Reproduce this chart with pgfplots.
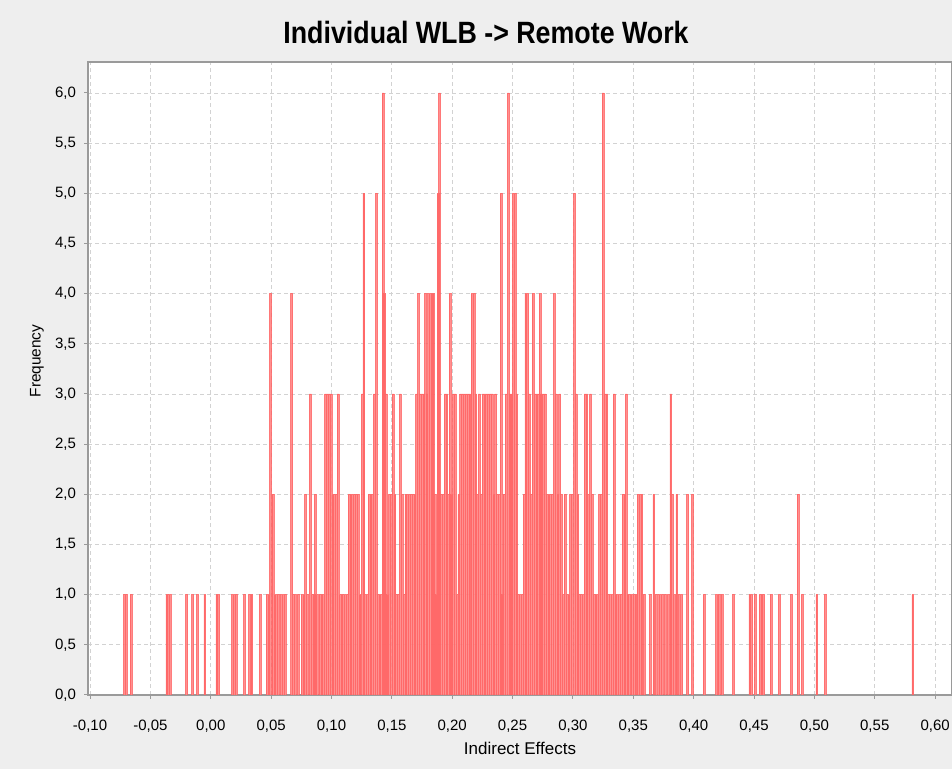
\documentclass[border=0pt]{standalone}
\usepackage{fontspec}
\setmainfont{Liberation Sans}
\usepackage{graphicx}
\usepackage{pgfplots}
\usepackage{pgfplotstable}
\pgfplotsset{compat=1.18}

\definecolor{panelbg}{HTML}{EEEEEE}
\definecolor{gridgray}{HTML}{D2D2D2}
\definecolor{axisgray}{HTML}{9A9A9A}
\definecolor{barfill}{HTML}{FF8585}
\definecolor{barline}{HTML}{FF6060}

% bootstrap histogram: bin centre, frequency
\pgfplotstableread{
x y
-0.0715 1
-0.0700 1
-0.0660 1
-0.0365 1
-0.0350 1
-0.0335 1
-0.0200 1
-0.0150 1
-0.0110 1
-0.0050 1
0.0050 1
0.0065 1
0.0180 1
0.0195 1
0.0210 1
0.0280 1
0.0320 1
0.0340 1
0.0410 1
0.0465 1
0.0480 1
0.0495 4
0.0515 2
0.0530 1
0.0545 1
0.0560 1
0.0585 1
0.0600 1
0.0615 1
0.0670 4
0.0685 1
0.0700 1
0.0725 1
0.0755 1
0.0770 1
0.0785 2
0.0800 1
0.0825 3
0.0840 1
0.0855 1
0.0865 2
0.0880 1
0.0905 1
0.0920 1
0.0935 1
0.0950 3
0.0965 3
0.0980 3
0.0995 3
0.1010 2
0.1025 2
0.1040 2
0.1055 3
0.1070 1
0.1085 1
0.1100 1
0.1115 1
0.1130 1
0.1145 2
0.1160 2
0.1175 2
0.1190 2
0.1205 2
0.1220 2
0.1235 1
0.1255 3
0.1268 5
0.1280 1
0.1295 1
0.1310 2
0.1325 2
0.1340 2
0.1355 3
0.1372 5
0.1385 1
0.1400 1
0.1415 1
0.1427 6
0.1440 4
0.1452 3
0.1465 1
0.1480 2
0.1495 2
0.1510 3
0.1525 2
0.1540 1
0.1555 1
0.1570 3
0.1585 2
0.1600 1
0.1615 2
0.1630 2
0.1645 2
0.1660 2
0.1675 2
0.1690 2
0.1705 3
0.1720 4
0.1735 3
0.1750 3
0.1765 3
0.1778 4
0.1790 3
0.1805 4
0.1820 4
0.1835 4
0.1845 4
0.1860 2
0.1870 1
0.1882 5
0.1895 6
0.1910 2
0.1925 2
0.1940 3
0.1955 3
0.1970 2
0.1982 4
0.1995 2
0.2010 3
0.2025 3
0.2040 1
0.2055 2
0.2070 3
0.2085 3
0.2100 3
0.2115 3
0.2130 3
0.2145 3
0.2165 4
0.2180 4
0.2195 3
0.2210 2
0.2225 3
0.2240 2
0.2255 3
0.2270 3
0.2285 3
0.2300 3
0.2315 3
0.2330 3
0.2345 2
0.2360 3
0.2375 2
0.2390 2
0.2405 5
0.2418 1
0.2430 2
0.2445 3
0.2465 6
0.2478 3
0.2490 3
0.2505 5
0.2520 5
0.2535 3
0.2550 1
0.2565 1
0.2580 1
0.2595 2
0.2610 4
0.2625 4
0.2640 3
0.2655 2
0.2670 4
0.2685 3
0.2700 3
0.2715 3
0.2728 4
0.2740 3
0.2755 3
0.2770 3
0.2785 2
0.2800 2
0.2815 2
0.2830 2
0.2845 4
0.2860 3
0.2875 2
0.2890 3
0.2905 2
0.2920 1
0.2935 2
0.2950 1
0.2965 1
0.2980 2
0.2995 2
0.3013 5
0.3025 3
0.3040 2
0.3055 1
0.3070 1
0.3085 1
0.3100 3
0.3115 3
0.3130 2
0.3145 3
0.3160 2
0.3175 1
0.3190 1
0.3205 1
0.3220 2
0.3235 2
0.3250 6
0.3265 3
0.3280 3
0.3295 1
0.3310 1
0.3325 1
0.3340 3
0.3355 1
0.3370 1
0.3385 1
0.3400 1
0.3415 2
0.3430 2
0.3442 3
0.3455 1
0.3470 1
0.3490 1
0.3505 1
0.3520 1
0.3540 2
0.3555 2
0.3570 2
0.3590 1
0.3640 1
0.3670 2
0.3690 1
0.3710 1
0.3725 1
0.3740 1
0.3765 1
0.3790 1
0.3810 3
0.3825 2
0.3840 1
0.3860 2
0.3880 1
0.3900 1
0.3950 2
0.3990 2
0.4085 1
0.4190 1
0.4210 1
0.4235 1
0.4330 1
0.4465 1
0.4480 1
0.4510 1
0.4550 1
0.4565 1
0.4580 1
0.4640 1
0.4710 1
0.4810 1
0.4865 2
0.4900 1
0.5020 1
0.5090 1
0.5815 1
}\histdata

\begin{document}
\begin{tikzpicture}
\fill[panelbg] (-44pt,-37pt) rectangle (432pt,347.5pt);
\useasboundingbox (-44pt,-37pt) rectangle (432pt,347.5pt);
\begin{axis}[
  at={(0pt,0pt)}, anchor=south west,
  scale only axis,
  width=432pt, height=316.5pt,
  xmin=-0.1017, xmax=0.614,
  ymin=0, ymax=6.309,
  axis background/.style={fill=white},
  axis line style={draw=axisgray, line width=0.8pt},
  xtick={-0.10,-0.05,0,0.05,0.10,0.15,0.20,0.25,0.30,0.35,0.40,0.45,0.50,0.55,0.60},
  ytick={0,0.5,1,1.5,2,2.5,3,3.5,4,4.5,5,5.5,6},
  grid=major,
  major grid style={dash pattern=on 2pt off 1.5pt, gridgray, line width=0.4pt},
  tick align=outside, tick pos=left,
  major tick length=2pt,
  tick style={axisgray, line width=0.5pt},
  /pgf/number format/assume math mode=true,
  xticklabel style={font=\fontsize{7.5}{9}\selectfont, yshift=-7pt,
    /pgf/number format/fixed, /pgf/number format/fixed zerofill,
    /pgf/number format/precision=2, /pgf/number format/use comma},
  yticklabel style={font=\fontsize{7.5}{9}\selectfont, xshift=-0.5pt,
    /pgf/number format/fixed, /pgf/number format/fixed zerofill,
    /pgf/number format/precision=1, /pgf/number format/use comma},
]
\addplot[ybar, bar width=0.0015, fill=barfill, fill opacity=0.9,
  draw=barline, draw opacity=0.8, line width=0.3pt] table[x=x, y=y] {\histdata};
\end{axis}
\node[font=\bfseries\fontsize{15.4}{18}\selectfont] at (199pt,331pt)
  {\scalebox{0.87}[1]{Individual WLB -> Remote Work}};
\node[font=\fontsize{8.5}{10}\selectfont] at (216pt,-26.5pt) {Indirect Effects};
\node[font=\fontsize{7.7}{9}\selectfont, rotate=90] at (-25.5pt,167pt) {Frequency};
\end{tikzpicture}
\end{document}
